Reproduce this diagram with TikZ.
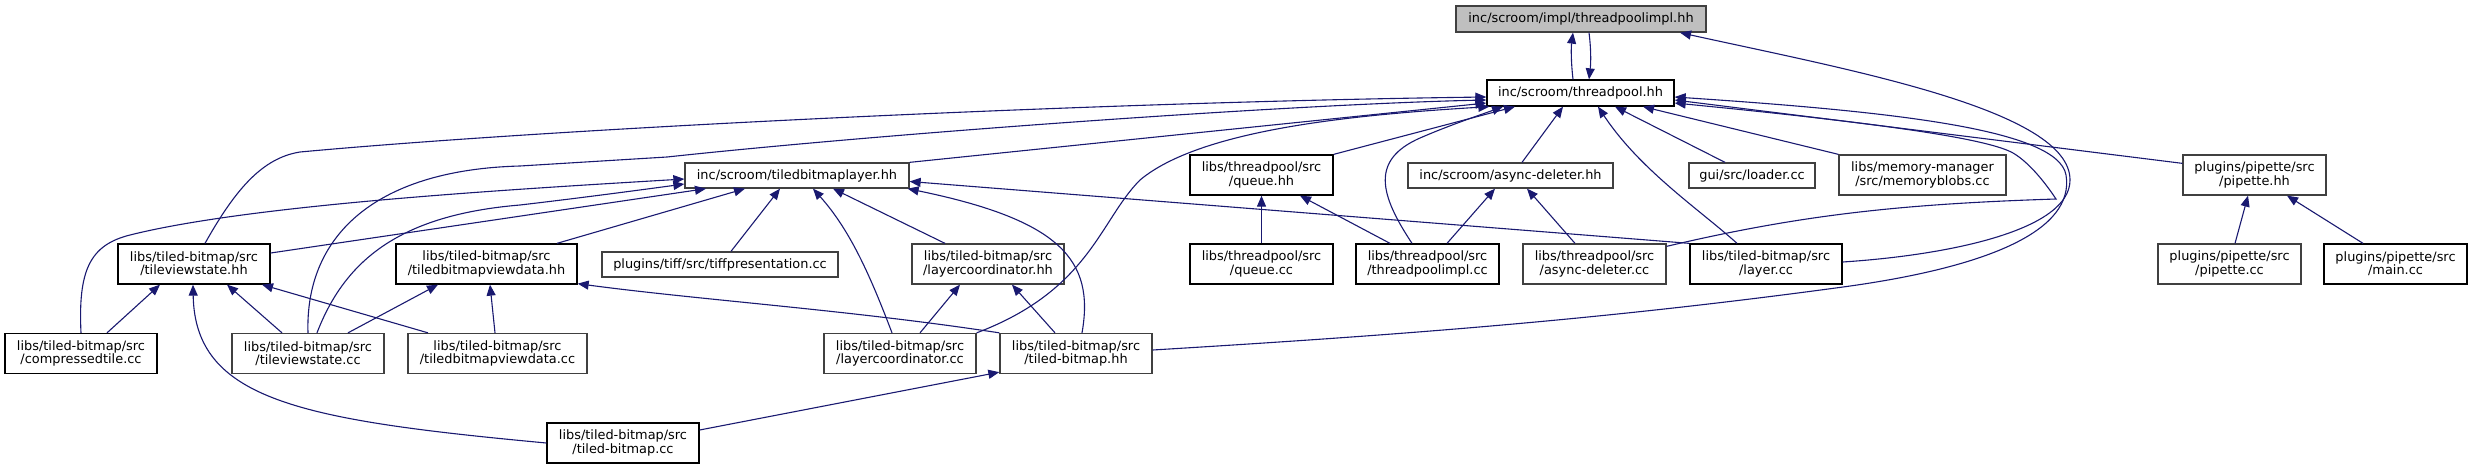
\documentclass[tikz,border=0pt]{standalone}
\usepackage{fontspec}
\setmainfont{DejaVu Sans}
\usetikzlibrary{arrows.meta}
\definecolor{tpblue}{HTML}{191970}
\definecolor{bordergray}{HTML}{404040}
\definecolor{fillgray}{HTML}{BFBFBF}
\tikzset{
  box/.style={draw=black, line width=1.3pt, inner sep=0pt, align=center,
    font=\fontsize{12.9}{13.3}\selectfont, minimum height=40pt},
  gbox/.style={box, draw=bordergray},
  one/.style={minimum height=25pt},
  edge/.style={draw=tpblue, line width=1.1pt, -{Triangle[length=11pt,width=9pt]}}
}
\begin{document}
\begin{tikzpicture}[x=1pt,y=-1pt]
\useasboundingbox (0,0) rectangle (2473,469);
% row 0/1
\node[gbox, fill=fillgray, minimum width=250pt, minimum height=26pt] (tpi) at (1581,19) {inc/scroom/impl/threadpoolimpl.hh};
\node[box, minimum width=187pt, minimum height=26pt] (tp) at (1580.5,93) {inc/scroom/threadpool.hh};
% row 2
\node[gbox, one, minimum width=224pt] (tbl) at (797,175.5) {inc/scroom/tiledbitmaplayer.hh};
\node[box, minimum width=143pt] (qhh) at (1261.5,175) {libs/threadpool/src\\/queue.hh};
\node[gbox, one, minimum width=205pt] (adhh) at (1510.5,175.5) {inc/scroom/async-deleter.hh};
\node[gbox, one, minimum width=126pt] (loader) at (1752,175.5) {gui/src/loader.cc};
\node[gbox, minimum width=167pt] (memb) at (1922.5,175) {libs/memory-manager\\/src/memoryblobs.cc};
\node[gbox, minimum width=143pt] (piphh) at (2254.5,175) {plugins/pipette/src\\/pipette.hh};
% row 3
\node[box, minimum width=152pt] (tvshh) at (194,264) {libs/tiled-bitmap/src\\/tileviewstate.hh};
\node[box, minimum width=181pt] (tbvdhh) at (486.5,264) {libs/tiled-bitmap/src\\/tiledbitmapviewdata.hh};
\node[gbox, one, minimum width=236pt] (tiff) at (720,264.5) {plugins/tiff/src/tiffpresentation.cc};
\node[gbox, minimum width=152pt] (lchh) at (988,264) {libs/tiled-bitmap/src\\/layercoordinator.hh};
\node[box, minimum width=143pt] (qcc) at (1261.5,264) {libs/threadpool/src\\/queue.cc};
\node[box, minimum width=143pt] (tpicc) at (1427.5,264) {libs/threadpool/src\\/threadpoolimpl.cc};
\node[gbox, minimum width=143pt] (adcc) at (1594.5,264) {libs/threadpool/src\\/async-deleter.cc};
\node[box, minimum width=152pt] (layer) at (1766,264) {libs/tiled-bitmap/src\\/layer.cc};
\node[gbox, minimum width=143pt] (pipcc) at (2229.5,264) {plugins/pipette/src\\/pipette.cc};
\node[box, minimum width=143pt] (main) at (2395.5,264) {plugins/pipette/src\\/main.cc};
% row 4
\node[box, minimum width=152pt] (ctcc) at (81,353.5) {libs/tiled-bitmap/src\\/compressedtile.cc};
\node[gbox, minimum width=152pt] (tvscc) at (308,353.5) {libs/tiled-bitmap/src\\/tileviewstate.cc};
\node[gbox, minimum width=179pt] (tbvdcc) at (497.5,353.5) {libs/tiled-bitmap/src\\/tiledbitmapviewdata.cc};
\node[gbox, minimum width=152pt] (lccc) at (900,353.5) {libs/tiled-bitmap/src\\/layercoordinator.cc};
\node[gbox, minimum width=152pt] (tbhh) at (1076,353.5) {libs/tiled-bitmap/src\\/tiled-bitmap.hh};
% row 5
\node[box, minimum width=152pt] (tbcc) at (623,443) {libs/tiled-bitmap/src\\/tiled-bitmap.cc};

% edges into threadpoolimpl.hh / threadpool.hh
\draw[edge] ([xshift=-7.5pt]tp.north) .. controls (1571,62) and (1571,48) .. ([xshift=-8pt]tpi.south);
\draw[edge] ([xshift=8pt]tpi.south) .. controls (1591,48) and (1591,62) .. ([xshift=8.5pt]tp.north);
\draw[edge] ([yshift=2pt]layer.east) .. controls (1950,255) and (2070,230) .. (2070,180) .. controls (2070,110) and (1850,70) .. ([xshift=99pt]tpi.south);
\draw[edge] ([xshift=11pt]tvshh.north) .. controls (235,190) and (262,158) .. (300,152) .. controls (560,128) and (1100,102) .. ([yshift=-4pt]tp.west);
\draw[edge] (tvscc.north) .. controls (305,240) and (370,170) .. (520,166) -- (667,157) .. controls (900,132) and (1300,104) .. ([yshift=-7pt]tp.west);
\draw[edge] (tbl.north east) -- ([yshift=-10pt]tp.west);
\draw[edge] (lccc.north east) .. controls (1090,290) and (1100,220) .. (1140,180) .. controls (1200,130) and (1350,115) .. ([xshift=3pt]tp.south west);
\draw[edge] (qhh.north east) -- ([xshift=-65.5pt]tp.south);
\draw[edge] ([xshift=-15.5pt]tpicc.north) .. controls (1380,195) and (1370,160) .. (1420,138) .. controls (1450,125) and (1480,115) .. ([xshift=-77.5pt]tp.south);
\draw[edge] ([xshift=11.5pt]adhh.north) -- ([xshift=-17.5pt]tp.south);
\draw[edge] ([xshift=-29pt]layer.north) .. controls (1700,210) and (1640,170) .. ([xshift=17.5pt]tp.south);
\draw[edge] ([xshift=-27pt]loader.north) -- ([xshift=34.5pt]tp.south);
\draw[edge] (memb.north west) -- ([xshift=62.5pt]tp.south);
\draw[edge] ([yshift=-9pt]piphh.north west) -- ([yshift=-7pt]tp.east);
\draw[edge] ([yshift=-3pt]adcc.north east) .. controls (1800,215) and (1900,204) .. (2056,199) .. controls (2040,175) and (2025,160) .. (2013,153) .. controls (1990,140) and (1900,125) .. ([yshift=-10pt]tp.east);
\draw[edge] ([yshift=3.5pt]tbhh.east) .. controls (1400,335) and (1600,320) .. (1843,287) .. controls (1990,267) and (2075,230) .. (2066,175) .. controls (2058,130) and (1900,112) .. ([yshift=-4pt]tp.east);

% edges into tiledbitmaplayer.hh
\draw[edge] (ctcc.north) .. controls (78,270) and (90,245) .. (130,235) .. controls (250,205) and (500,190) .. ([yshift=-3.5pt]tbl.west);
\draw[edge] ([xshift=9pt]tvscc.north) .. controls (345,260) and (400,215) .. (520,205) .. controls (580,198) and (640,190) .. ([yshift=-8.5pt]tbl.west);
\draw[edge] ([yshift=11pt]tvshh.east) -- ([xshift=-91pt]tbl.south);
\draw[edge] ([xshift=70.5pt]tbvdhh.north) -- ([xshift=-52pt]tbl.south);
\draw[edge] ([xshift=11pt]tiff.north) -- ([xshift=-17pt]tbl.south);
\draw[edge] ([xshift=-8pt]lccc.north) .. controls (870,275) and (850,230) .. ([xshift=16pt]tbl.south);
\draw[edge] ([xshift=-43pt]lchh.north) -- ([xshift=36pt]tbl.south);
\draw[edge] (layer.north west) -- ([yshift=-6pt]tbl.east);
\draw[edge] ([xshift=6pt]tbhh.north) .. controls (1095,260) and (1060,220) .. ([xshift=-2pt]tbl.south east);

% edges into tileviewstate.hh
\draw[edge] ([xshift=26pt]ctcc.north) -- ([xshift=-34pt]tvshh.south);
\draw[edge] (tbcc.west) .. controls (300,420) and (195,400) .. ([xshift=-1pt]tvshh.south);
\draw[edge] ([xshift=-26pt]tvscc.north) -- ([xshift=33pt]tvshh.south);
\draw[edge] ([xshift=-69.5pt]tbvdcc.north) -- ([xshift=68pt]tvshh.south);

% edges into tiledbitmapviewdata.hh
\draw[edge] ([xshift=40pt]tvscc.north) -- ([xshift=-48.5pt]tbvdhh.south);
\draw[edge] ([xshift=-2.5pt]tbvdcc.north) -- ([xshift=3.5pt]tbvdhh.south);
\draw[edge] (tbhh.north west) .. controls (850,310) and (700,300) .. ([yshift=1pt]tbvdhh.south east);

% edges into layercoordinator.hh, tiled-bitmap.hh
\draw[edge] ([xshift=20pt]lccc.north) -- ([xshift=-28pt]lchh.south);
\draw[edge] ([xshift=-21pt]tbhh.north) -- ([xshift=24pt]lchh.south);
\draw[edge] ([yshift=13pt]tbcc.east) -- ([yshift=2pt]tbhh.south west);

% edges into queue.hh, async-deleter.hh, pipette.hh
\draw[edge] (qcc.north) -- (qhh.south);
\draw[edge] ([xshift=-37.5pt]tpicc.north) -- ([xshift=38.5pt]qhh.south);
\draw[edge] ([xshift=19.5pt]tpicc.north) -- ([xshift=-15.5pt]adhh.south);
\draw[edge] ([xshift=-19.5pt]adcc.north) -- ([xshift=16.5pt]adhh.south);
\draw[edge] ([xshift=5.5pt]pipcc.north) -- ([xshift=-6.5pt]piphh.south);
\draw[edge] ([xshift=-32.5pt]main.north) -- ([xshift=32.5pt]piphh.south);
\end{tikzpicture}
\end{document}
